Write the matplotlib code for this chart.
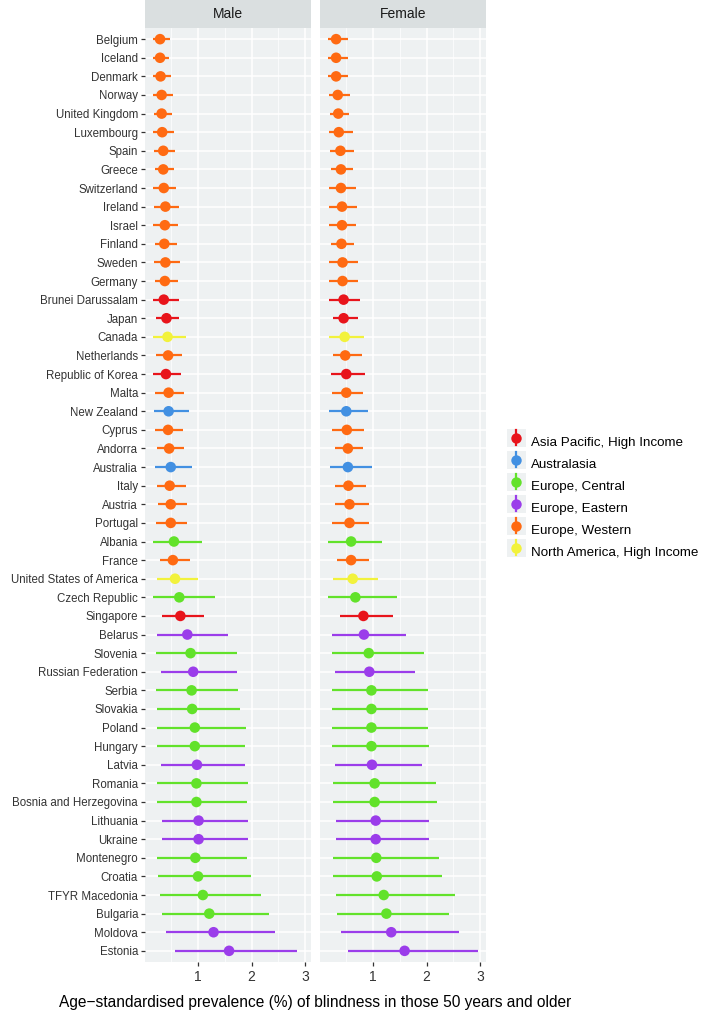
import matplotlib.pyplot as plt
from matplotlib.legend_handler import HandlerBase
from matplotlib.lines import Line2D
from matplotlib.patches import Rectangle

plt.rcParams['font.family'] = ['Liberation Sans', 'DejaVu Sans']

# countries top to bottom
countries = ["Belgium", "Iceland", "Denmark", "Norway", "United Kingdom", "Luxembourg",
             "Spain", "Greece", "Switzerland", "Ireland", "Israel", "Finland", "Sweden",
             "Germany", "Brunei Darussalam", "Japan", "Canada", "Netherlands",
             "Republic of Korea", "Malta", "New Zealand", "Cyprus", "Andorra", "Australia",
             "Italy", "Austria", "Portugal", "Albania", "France", "United States of America",
             "Czech Republic", "Singapore", "Belarus", "Slovenia", "Russian Federation",
             "Serbia", "Slovakia", "Poland", "Hungary", "Latvia", "Romania",
             "Bosnia and Herzegovina", "Lithuania", "Ukraine", "Montenegro", "Croatia",
             "TFYR Macedonia", "Bulgaria", "Moldova", "Estonia"]

W, AP, NA, AU, C, E = ("Europe, Western", "Asia Pacific, High Income",
                       "North America, High Income", "Australasia",
                       "Europe, Central", "Europe, Eastern")
regions = [W, W, W, W, W, W, W, W, W, W, W, W, W, W, AP, AP, NA, W, AP, W, AU, W, W, AU,
           W, W, W, C, W, NA, C, AP, E, C, E, C, C, C, C, E, C, C, E, E, C, C, C, C, E, E]

male_mid = [0.29, 0.29, 0.30, 0.32, 0.32, 0.33, 0.35, 0.35, 0.36, 0.39, 0.38, 0.37, 0.39,
            0.38, 0.36, 0.41, 0.43, 0.44, 0.40, 0.45, 0.45, 0.44, 0.46, 0.49, 0.47, 0.49,
            0.49, 0.55, 0.53, 0.57, 0.65, 0.67, 0.80, 0.86, 0.91, 0.88, 0.89, 0.94, 0.94,
            0.98, 0.97, 0.97, 1.01, 1.01, 0.95, 1.00, 1.09, 1.21, 1.29, 1.58]
male_lo = [0.15, 0.15, 0.15, 0.16, 0.18, 0.15, 0.18, 0.19, 0.16, 0.18, 0.16, 0.19, 0.18,
           0.19, 0.15, 0.22, 0.16, 0.22, 0.16, 0.19, 0.18, 0.19, 0.24, 0.19, 0.24, 0.26,
           0.22, 0.15, 0.29, 0.24, 0.15, 0.32, 0.24, 0.22, 0.30, 0.22, 0.24, 0.24, 0.24,
           0.30, 0.24, 0.24, 0.32, 0.32, 0.24, 0.26, 0.29, 0.33, 0.41, 0.57]
male_hi = [0.47, 0.46, 0.50, 0.53, 0.52, 0.55, 0.57, 0.55, 0.58, 0.64, 0.63, 0.61, 0.66,
           0.63, 0.64, 0.64, 0.78, 0.70, 0.69, 0.73, 0.83, 0.72, 0.73, 0.88, 0.77, 0.80,
           0.80, 1.08, 0.85, 1.00, 1.31, 1.11, 1.56, 1.73, 1.73, 1.75, 1.78, 1.89, 1.88,
           1.87, 1.93, 1.91, 1.94, 1.94, 1.91, 1.99, 2.18, 2.32, 2.43, 2.85]

female_mid = [0.31, 0.31, 0.31, 0.34, 0.35, 0.36, 0.39, 0.40, 0.40, 0.42, 0.42, 0.41, 0.43,
              0.43, 0.45, 0.45, 0.47, 0.48, 0.50, 0.50, 0.50, 0.51, 0.53, 0.53, 0.54, 0.56,
              0.56, 0.59, 0.59, 0.62, 0.67, 0.82, 0.83, 0.92, 0.93, 0.97, 0.97, 0.97, 0.97,
              0.98, 1.03, 1.03, 1.05, 1.05, 1.06, 1.07, 1.20, 1.25, 1.34, 1.59]
female_lo = [0.15, 0.16, 0.15, 0.17, 0.20, 0.17, 0.20, 0.22, 0.18, 0.18, 0.18, 0.22, 0.18,
             0.18, 0.18, 0.25, 0.18, 0.25, 0.22, 0.23, 0.18, 0.23, 0.28, 0.20, 0.28, 0.29,
             0.23, 0.15, 0.32, 0.25, 0.15, 0.39, 0.23, 0.23, 0.28, 0.23, 0.23, 0.23, 0.23,
             0.29, 0.25, 0.25, 0.31, 0.31, 0.26, 0.26, 0.30, 0.32, 0.40, 0.53]
female_hi = [0.53, 0.53, 0.53, 0.57, 0.56, 0.62, 0.65, 0.62, 0.68, 0.70, 0.68, 0.65, 0.72,
             0.72, 0.75, 0.72, 0.83, 0.79, 0.85, 0.82, 0.90, 0.84, 0.82, 0.98, 0.86, 0.92,
             0.93, 1.17, 0.93, 1.10, 1.44, 1.37, 1.62, 1.95, 1.79, 2.03, 2.03, 2.03, 2.04,
             1.91, 2.17, 2.20, 2.04, 2.04, 2.23, 2.28, 2.54, 2.42, 2.60, 2.97]

legend_order = [AP, AU, C, E, W, NA]
region_colors = {AP: "#E8141B", AU: "#4290E2", C: "#62E22A", E: "#9B3DEA",
                 W: "#FF6A12", NA: "#F2F23C"}

panel_bg = "#EEF1F2"
strip_bg = "#DADFE0"
text_col = "#333333"

fig = plt.figure(figsize=(7.08, 10.18), dpi=100)
W_px, H_px = 708.0, 1018.0

# panel geometry (pixels)
top, bottom = 28, 962
panels = [("Male", 145, male_mid, male_lo, male_hi),
          ("Female", 320, female_mid, female_lo, female_hi)]
pw = 166

lo_all = min(male_lo + female_lo)
hi_all = max(male_hi + female_hi)
pad = (hi_all - lo_all) * 0.05
ypos = list(range(len(countries)))
cols = [region_colors[r] for r in regions]

for k, (title, left, mid, lo, hi) in enumerate(panels):
    ax = fig.add_axes([left / W_px, 1 - bottom / H_px, pw / W_px, (bottom - top) / H_px])
    ax.set_facecolor(panel_bg)
    ax.set_axisbelow(True)
    ax.hlines(ypos, lo, hi, colors=cols, lw=1.6, zorder=2)
    ax.scatter(mid, ypos, s=58, c=cols, zorder=3, linewidths=0)
    ax.set_xlim(lo_all - pad, hi_all + pad)
    ax.set_ylim(len(countries) - 0.4, -0.6)
    ax.set_xticks([1, 2, 3])
    ax.set_xticks([0.5, 1.5, 2.5], minor=True)
    ax.set_yticks(ypos)
    ax.grid(which="major", color="white", lw=1.1)
    ax.grid(which="minor", axis="x", color="white", lw=0.5)
    for s in ax.spines.values():
        s.set_visible(False)
    ax.tick_params(axis="x", which="major", length=3, width=0.9, color=text_col,
                   labelsize=10, labelcolor=text_col, pad=3)
    ax.tick_params(axis="x", which="minor", length=0)
    if k == 0:
        ax.set_yticklabels(countries)
        ax.tick_params(axis="y", length=3, width=0.9, color=text_col,
                       labelsize=8.3, labelcolor=text_col, pad=2)
    else:
        ax.set_yticklabels([])
        ax.tick_params(axis="y", length=0)

    # facet strip
    sax = fig.add_axes([left / W_px, 1 - top / H_px, pw / W_px, top / H_px])
    sax.set_facecolor(strip_bg)
    sax.set_xticks([])
    sax.set_yticks([])
    for s in sax.spines.values():
        s.set_visible(False)
    sax.text(0.5, 0.5, title, ha="center", va="center", fontsize=10,
             color="#1A1A1A", transform=sax.transAxes)

fig.text((145 + 486) / 2 / W_px, 1 - 1003 / H_px,
         "Age\u2212standardised prevalence (%) of blindness in those 50 years and older",
         ha="center", va="center", fontsize=11.2, color="black")


class PointRangeKey(HandlerBase):
    def create_artists(self, legend, orig, xd, yd, w, h, fs, trans):
        c = orig.get_color()
        cx = xd + w / 2
        bg = Rectangle((xd, yd - 2), w, h + 4, fc=panel_bg, ec="none", transform=trans)
        ln = Line2D([cx, cx], [yd - 1, yd + h + 1], color=c, lw=1.6, transform=trans)
        dot = Line2D([cx], [yd + h / 2], marker="o", ms=7.5, mew=0, color=c,
                     transform=trans)
        return [bg, ln, dot]


handles = [Line2D([], [], color=region_colors[r]) for r in legend_order]
fig.legend(handles, legend_order, loc="center left", bbox_to_anchor=(0.706, 0.512),
           frameon=False, fontsize=9.6, labelspacing=0.62, handlelength=1.45,
           handleheight=1.05, handletextpad=0.35, borderpad=0,
           handler_map={Line2D: PointRangeKey()})

fig.savefig("out.png", dpi=100)
